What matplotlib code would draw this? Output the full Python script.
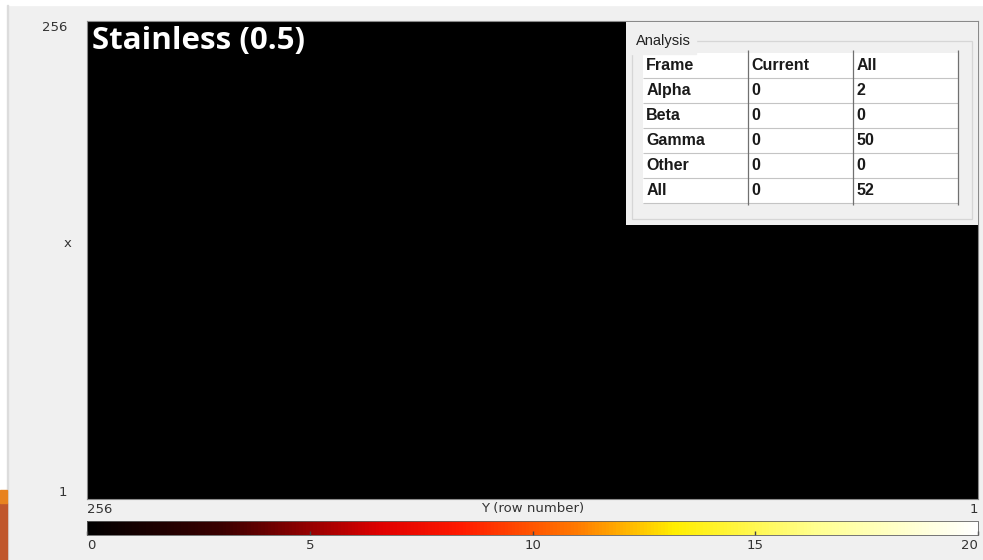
import numpy as np
import matplotlib
matplotlib.use('Agg')
import matplotlib.pyplot as plt
from matplotlib.colors import LinearSegmentedColormap
from matplotlib.patches import Rectangle

# data
n_pix = 256
counts = np.zeros((n_pix, n_pix))          # frame is completely dark
cbar_ticks = [0, 5, 10, 15, 20]
title = 'Stainless (0.5)'
table_header = ['Frame', 'Current', 'All']
frame_types = ['Alpha', 'Beta', 'Gamma', 'Other', 'All']
current_counts = [0, 0, 0, 0, 0]
all_counts = [2, 0, 50, 0, 52]

heat = LinearSegmentedColormap.from_list('heat', [
    (0.0, '#000000'), (0.15, '#3a0000'), (0.33, '#e00000'), (0.42, '#ff1a00'),
    (0.55, '#ff7a00'), (0.66, '#ffee00'), (0.82, '#ffff90'), (1.0, '#ffffff')])

W, H = 983, 560
fig = plt.figure(figsize=(W / 100, H / 100), dpi=100, facecolor='#f0f0f0')

def fbox(x0, y0, x1, y1):
    # pixel box (top-left origin) -> figure fraction rect
    return [x0 / W, 1 - y1 / H, (x1 - x0) / W, (y1 - y0) / H]

# window decoration: white strips + orange slide bar
fig.patches.append(Rectangle((0, 1 - 5 / H), 1, 5 / H, transform=fig.transFigure,
                             color='white', zorder=0))
fig.patches.append(Rectangle((0, 0), 7 / W, 1, transform=fig.transFigure,
                             color='white', zorder=0))
fig.patches.append(Rectangle((7 / W, 0), 1 / W, 1 - 5 / H, transform=fig.transFigure,
                             color='#dcdcdc', zorder=0))
fig.patches.append(Rectangle((0, 0), 7 / W, 57 / H, transform=fig.transFigure,
                             color='#c0562b', zorder=1))
fig.patches.append(Rectangle((0, 57 / H), 7 / W, 13 / H, transform=fig.transFigure,
                             color='#e8821e', zorder=1))

# main image
ax = fig.add_axes(fbox(87, 21, 978, 499))
im = ax.imshow(counts, cmap=heat, vmin=cbar_ticks[0], vmax=cbar_ticks[-1],
               extent=[n_pix, 1, 1, n_pix], aspect='auto', interpolation='nearest')
ax.set_xlim(n_pix, 1)
ax.set_ylim(1, n_pix)
for s in ax.spines.values():
    s.set_color('#8a8a8a')
    s.set_linewidth(0.8)

tick_font = dict(family='DejaVu Sans', size=9.5, color='#333333')
ax.set_xticks([n_pix, 1])
ax.set_xticklabels([str(n_pix), '1'], **tick_font)
ax.set_yticks([1, n_pix])
ax.set_yticklabels(['1', str(n_pix)], **tick_font)
ax.tick_params(length=0, pad=3, axis='x')
ax.tick_params(length=0, pad=14, axis='y')
xl = ax.get_xticklabels()
xl[0].set_ha('left')
xl[1].set_ha('right')
yl = ax.get_yticklabels()
yl[0].set_va('bottom')
yl[1].set_va('top')

ax.set_xlabel('Y (row number)', **tick_font)
ax.xaxis.set_label_coords(0.5, -0.006)
ax.xaxis.label.set_va('top')
ax.set_ylabel('x', rotation=0, **tick_font)
ax.yaxis.set_label_coords(-0.022, 0.52)

ax.text(5 / 891, 1 - 5 / 478, title, transform=ax.transAxes, ha='left', va='top',
        color='white', fontsize=22.5, fontweight='bold', family='Open Sans')

# colour bar
cax = fig.add_axes(fbox(87, 521, 978, 535))
cb = fig.colorbar(im, cax=cax, orientation='horizontal', ticks=cbar_ticks)
cb.outline.set_edgecolor('#606060')
cb.outline.set_linewidth(0.6)
cax.tick_params(direction='in', length=3, width=1, color='#444444', pad=3,
                labelsize=9.5, labelcolor='#333333')
cl = cax.get_xticklabels()
cl[0].set_ha('left')
cl[-1].set_ha('right')

# analysis panel
pax = fig.add_axes(fbox(626, 22, 978, 225))
pax.set_facecolor('#f0f0f0')
pax.set_xlim(0, 352)
pax.set_ylim(203, 0)
pax.set_xticks([])
pax.set_yticks([])
for s in pax.spines.values():
    s.set_visible(False)
pax.add_patch(Rectangle((6, 19), 340, 178, fill=False, edgecolor='#d6d6d6', lw=0.9))
pax.text(10, 19, 'Analysis', ha='left', va='center', fontsize=10.5, color='#222222',
         family='Liberation Sans', backgroundcolor='#f0f0f0')

tab_x0, tab_y0, tab_w, tab_h = 17, 31, 315, 150
pax.add_patch(Rectangle((tab_x0, tab_y0), tab_w, tab_h, facecolor='white',
                        edgecolor='none', zorder=0.5))
rows = [[f, str(c), str(a)] for f, c, a in zip(frame_types, current_counts, all_counts)]
tab = pax.table(cellText=rows, colLabels=table_header, cellLoc='left', colLoc='left',
                bbox=[tab_x0 / 352, 1 - (tab_y0 + tab_h) / 203, tab_w / 352, tab_h / 203],
                edges='B')
tab.set_zorder(2)
tab.auto_set_font_size(False)
for (r, c), cell in tab.get_celld().items():
    cell.set_facecolor('white')
    cell.set_edgecolor('#c4c4c4')
    cell.set_linewidth(0.8)
    cell.PAD = 0.03
    cell.get_text().set_fontsize(11.5)
    cell.get_text().set_fontweight('bold')
    cell.get_text().set_family('Liberation Sans')
    cell.get_text().set_color('#1a1a1a')

# dark column separators (right edge of each column)
col_w = tab_w / len(table_header)
pax.vlines([tab_x0 + col_w * (i + 1) for i in range(len(table_header))],
           tab_y0 - 3, tab_y0 + tab_h + 2, color='#707070', lw=0.9, zorder=3)

fig.savefig('out.png', dpi=100, facecolor=fig.get_facecolor())
